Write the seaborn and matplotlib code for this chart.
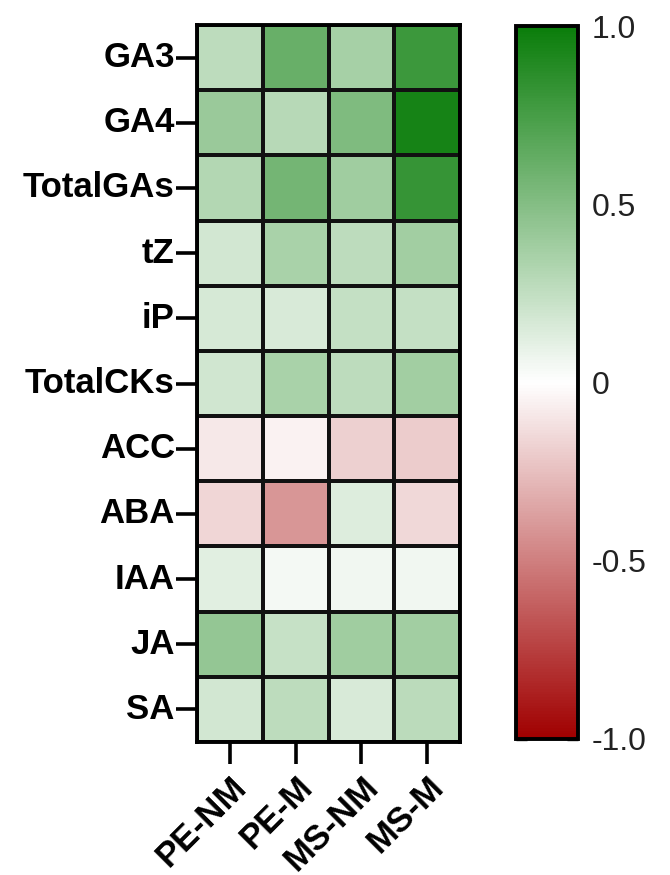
import numpy as np
import pandas as pd
import matplotlib
matplotlib.use("Agg")
import matplotlib.pyplot as plt
import seaborn as sns
from matplotlib.colors import LinearSegmentedColormap

rows = ["GA3", "GA4", "TotalGAs", "tZ", "iP", "TotalCKs", "ACC", "ABA", "IAA", "JA", "SA"]
cols = ["PE-NM", "PE-M", "MS-NM", "MS-M"]
pe_nm = [0.27, 0.41, 0.31, 0.18, 0.17, 0.19, -0.09, -0.16, 0.12, 0.43, 0.18]
pe_m = [0.61, 0.29, 0.57, 0.35, 0.16, 0.35, -0.05, -0.41, 0.04, 0.23, 0.27]
ms_nm = [0.36, 0.52, 0.39, 0.27, 0.24, 0.27, -0.18, 0.14, 0.06, 0.39, 0.16]
ms_m = [0.79, 0.95, 0.82, 0.38, 0.24, 0.38, -0.20, -0.15, 0.06, 0.38, 0.28]
cbar_ticks = [-1.0, -0.5, 0, 0.5, 1.0]
cbar_labels = ["-1.0", "-0.5", "0", "0.5", "1.0"]

df = pd.DataFrame({"PE-NM": pe_nm, "PE-M": pe_m, "MS-NM": ms_nm, "MS-M": ms_m}, index=rows)[cols]

sns.set_theme(style="white")
plt.rcParams["font.family"] = ["Liberation Sans", "DejaVu Sans"]

cmap = LinearSegmentedColormap.from_list("rwg", ["#A00000", "#FFFFFF", "#0A7D0A"])

fig = plt.figure(figsize=(6.7, 8.75), dpi=100)
ax = fig.add_axes([197/670, 1-742/875, 263/670, 717/875])
cax = fig.add_axes([516/670, 1-739/875, 62/670, 713/875])

sns.heatmap(df, ax=ax, cmap=cmap, vmin=-1, vmax=1, linewidths=1.5, linecolor="#111111",
            cbar_ax=cax, cbar_kws={"ticks": cbar_ticks})

for s in ax.spines.values():
    s.set_visible(True)
    s.set_linewidth(2.8)
    s.set_color("black")

ax.tick_params(axis="y", left=True, length=15, width=2.6, color="black", pad=1,
               labelsize=25, labelcolor="black")
ax.tick_params(axis="x", bottom=True, length=16, width=2.6, color="black", pad=4,
               labelsize=25, labelcolor="black")
ax.set_yticklabels(rows, rotation=0, fontweight="bold")
ax.set_xticklabels(cols, rotation=45, ha="right", rotation_mode="anchor", fontweight="bold")
ax.set_xlabel("")
ax.set_ylabel("")

cbar = ax.collections[0].colorbar
cbar.outline.set_linewidth(2.8)
cbar.outline.set_edgecolor("black")
cbar.set_ticks(cbar_ticks)
cbar.set_ticklabels(cbar_labels)
cax.tick_params(direction="in", left=True, right=True, length=8, width=2.4, color="black",
                labelsize=23, labelcolor="#222222", pad=10)

fig.savefig("out.png", dpi=100)
